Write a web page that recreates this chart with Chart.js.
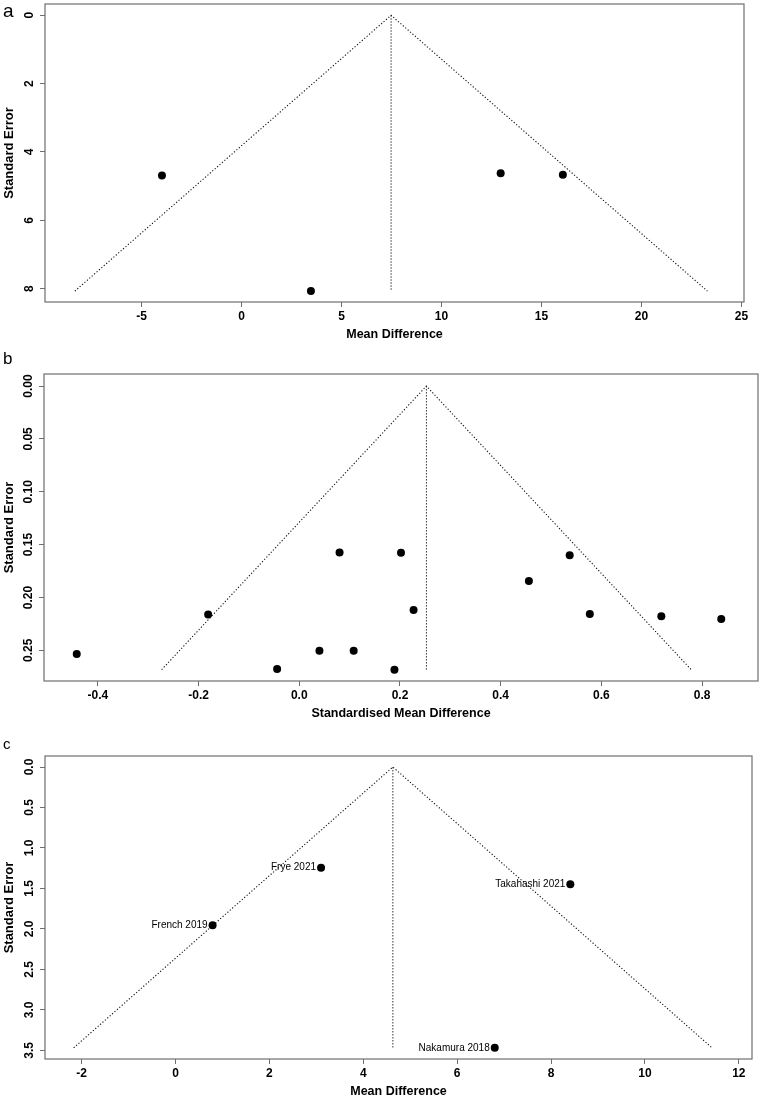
<!DOCTYPE html>
<html>
<head>
<meta charset="utf-8">
<script src="https://cdn.jsdelivr.net/npm/chart.js@4.4.1/dist/chart.umd.min.js"></script>
<style>
  body { margin: 0; background: #ffffff; }
  canvas { position: absolute; left: 0; }
</style>
</head>
<body>
<canvas id="funnelA" style="top:0px" width="762" height="345"></canvas>
<canvas id="funnelB" style="top:345px" width="762" height="378"></canvas>
<canvas id="funnelC" style="top:723px" width="762" height="377"></canvas>
<script>
// ===== Painel a =====
const effectA = [-3.98, 3.47, 12.96, 16.07];
const seA = [4.69, 8.07, 4.62, 4.67];
const pooledA = 7.48;
const xTicksA = [-5, 0, 5, 10, 15, 20, 25];
const yTicksA = [0, 2, 4, 6, 8];

// ===== Painel b =====
const effectB = [-0.442, -0.181, -0.044, 0.040, 0.080, 0.108, 0.189, 0.202, 0.227, 0.456, 0.537, 0.577, 0.719, 0.838];
const seB = [0.2535, 0.2162, 0.2677, 0.2503, 0.1575, 0.2503, 0.2683, 0.1578, 0.2118, 0.1843, 0.1600, 0.2156, 0.2178, 0.2203];
const pooledB = 0.2525;
const xTicksB = [-0.4, -0.2, 0.0, 0.2, 0.4, 0.6, 0.8];
const yTicksB = [0.00, 0.05, 0.10, 0.15, 0.20, 0.25];

// ===== Painel c =====
const studiesC = ["Frye 2021", "Takahashi 2021", "French 2019", "Nakamura 2018"];
const effectC = [3.10, 8.41, 0.79, 6.80];
const seC = [1.243, 1.449, 1.955, 3.469];
const pooledC = 4.63;
const xTicksC = [-2, 0, 2, 4, 6, 8, 10, 12];
const yTicksC = [0.0, 0.5, 1.0, 1.5, 2.0, 2.5, 3.0, 3.5];

const FONT = '"Liberation Sans", Arial, Helvetica, sans-serif';
const AXIS_GREY = '#6e6e6e';

// desenha caixa, rótulos do eixo y (girados), títulos, letra e nomes dos estudos
const funnelDecor = {
  id: 'funnelDecor',
  afterDraw(chart) {
    const d = chart.options.plugins.funnelDecor;
    const ctx = chart.ctx;
    const area = chart.chartArea;
    const xs = chart.scales.x, ys = chart.scales.y;
    ctx.save();
    ctx.strokeStyle = AXIS_GREY;
    ctx.lineWidth = 1.2;
    ctx.strokeRect(area.left, area.top, area.right - area.left, area.bottom - area.top);

    ctx.fillStyle = '#000';
    // y tick labels
    ctx.font = 'bold 12px ' + FONT;
    ctx.textAlign = 'center';
    ctx.textBaseline = 'middle';
    d.yTicks.forEach(v => {
      const py = ys.getPixelForValue(v);
      ctx.save();
      ctx.translate(area.left - 15, py);
      ctx.rotate(-Math.PI / 2);
      ctx.fillText(v.toFixed(d.yDec), 0, 0);
      ctx.restore();
    });
    // y title
    ctx.font = 'bold 13px ' + FONT;
    ctx.save();
    ctx.translate(9, (area.top + area.bottom) / 2);
    ctx.rotate(-Math.PI / 2);
    ctx.fillText('Standard Error', 0, 0);
    ctx.restore();
    // x title
    ctx.font = 'bold 12.5px ' + FONT;
    ctx.fillText(d.xTitle, (area.left + area.right) / 2, area.bottom + d.xTitleGap);
    // panel letter
    ctx.font = d.letterSize + 'px ' + FONT;
    ctx.textAlign = 'left';
    ctx.textBaseline = 'alphabetic';
    ctx.fillText(d.letter, 3, d.letterBase);
    // study labels
    if (d.labels) {
      ctx.font = '10px ' + FONT;
      ctx.textAlign = 'right';
      ctx.textBaseline = 'middle';
      d.labels.forEach((name, i) => {
        const px = xs.getPixelForValue(d.lx[i]);
        const py = ys.getPixelForValue(d.ly[i]);
        ctx.fillText(name, px - 5, py);
      });
    }
    ctx.restore();
  }
};

function makeFunnel(id, p) {
  const seMax = Math.max(...p.se);
  const points = p.effect.map((e, i) => ({ x: e, y: p.se[i] }));
  const triangle = [
    { x: p.pooled - 1.96 * seMax, y: seMax },
    { x: p.pooled, y: 0 },
    { x: p.pooled + 1.96 * seMax, y: seMax }
  ];
  const centre = [{ x: p.pooled, y: 0 }, { x: p.pooled, y: seMax }];

  return new Chart(document.getElementById(id), {
    type: 'scatter',
    data: {
      datasets: [
        { data: points, pointRadius: 4, pointBackgroundColor: '#000', pointBorderWidth: 0, showLine: false },
        { data: triangle, showLine: true, borderColor: '#111', borderWidth: 1.1, borderDash: [1.2, 2], pointRadius: 0, fill: false },
        { data: centre, showLine: true, borderColor: '#333', borderWidth: 1, borderDash: [1.5, 1.5], pointRadius: 0, fill: false }
      ]
    },
    options: {
      responsive: false,
      animation: false,
      devicePixelRatio: 1,
      layout: { padding: { top: p.padTop, right: p.padRight, left: 0, bottom: 0 } },
      plugins: {
        legend: { display: false },
        tooltip: { enabled: false },
        funnelDecor: {
          yTicks: p.yTicks, yDec: p.yDec, xTitle: p.xTitle, xTitleGap: 33,
          letter: p.letter, letterSize: p.letterSize, letterBase: p.letterBase,
          labels: p.labels, lx: p.effect, ly: p.se
        }
      },
      scales: {
        x: {
          type: 'linear', min: p.xMin, max: p.xMax,
          afterFit: s => { s.height = p.xAxisH; },
          afterBuildTicks: s => { s.ticks = p.xTicks.map(v => ({ value: v })); },
          border: { display: false },
          grid: { drawOnChartArea: false, drawTicks: true, tickLength: 5, tickColor: AXIS_GREY, tickWidth: 1 },
          ticks: {
            padding: 2, color: '#000', maxRotation: 0, autoSkip: false,
            font: { family: FONT, size: 12, weight: 'bold' },
            callback: v => v.toFixed(p.xDec)
          }
        },
        y: {
          type: 'linear', reverse: true, min: p.yMin, max: p.yMax,
          afterFit: s => { s.width = p.yAxisW; },
          afterBuildTicks: s => { s.ticks = p.yTicks.map(v => ({ value: v })); },
          border: { display: false },
          grid: { drawOnChartArea: false, drawTicks: true, tickLength: 5, tickColor: AXIS_GREY, tickWidth: 1 },
          ticks: { display: false }
        }
      }
    },
    plugins: [funnelDecor]
  });
}

makeFunnel('funnelA', {
  effect: effectA, se: seA, pooled: pooledA, xTicks: xTicksA, yTicks: yTicksA,
  xMin: -9.83, xMax: 25.13, yMin: -0.33, yMax: 8.39, xDec: 0, yDec: 0,
  padTop: 2, padRight: 18, yAxisW: 45, xAxisH: 43,
  xTitle: 'Mean Difference', letter: 'a', letterSize: 19, letterBase: 17
});

makeFunnel('funnelB', {
  effect: effectB, se: seB, pooled: pooledB, xTicks: xTicksB, yTicks: yTicksB,
  xMin: -0.507, xMax: 0.911, yMin: -0.0114, yMax: 0.279, xDec: 1, yDec: 2,
  padTop: 29, padRight: 3, yAxisW: 44, xAxisH: 42,
  xTitle: 'Standardised Mean Difference', letter: 'b', letterSize: 17, letterBase: 19
});

makeFunnel('funnelC', {
  effect: effectC, se: seC, pooled: pooledC, xTicks: xTicksC, yTicks: yTicksC,
  xMin: -2.78, xMax: 12.28, yMin: -0.136, yMax: 3.607, xDec: 0, yDec: 1,
  padTop: 33, padRight: 10, yAxisW: 45, xAxisH: 41,
  xTitle: 'Mean Difference', letter: 'c', letterSize: 15, letterBase: 26, labels: studiesC
});
</script>
</body>
</html>
